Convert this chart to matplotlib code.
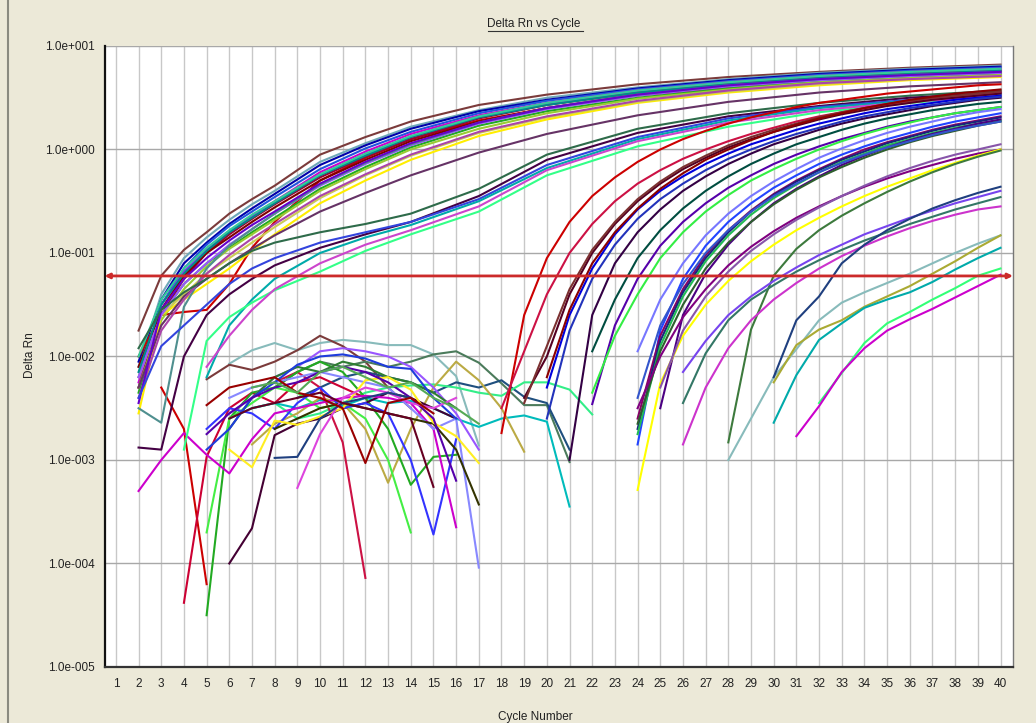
import matplotlib.pyplot as plt
from matplotlib.lines import Line2D
import numpy as np

plt.rcParams['font.family'] = ['Liberation Sans', 'DejaVu Sans']

# threshold (Delta Rn)
threshold = 0.06

# early amplifying wells, log10(Delta Rn) read at these cycles
early_cycles = [2, 3, 4, 5, 6, 7, 8, 10, 12, 14, 17, 20, 24, 28, 32, 36, 40]
early_colors = ['#7B3B3B', '#6FA8B8', '#0000AA', '#2255DD', '#CC00CC', '#8833EE', '#CC0000',
                '#990033', '#800000', '#22AA22', '#99CC33', '#FFEE00', '#CCCC55', '#663366',
                '#9955FF', '#008B8B', '#4F8F8F', '#AA44AA', '#33CC99', '#6600CC',
                '#2E6B4A', '#440044', '#3344DD', '#00AAAA', '#33FF88', '#CC44CC']
early_logs = [
    [-1.75, -1.22, -0.97, -0.8, -0.62, -0.48, -0.35, -0.05, 0.12, 0.27, 0.43, 0.53, 0.63, 0.70, 0.75, 0.79, 0.82],
    [-2.1, -1.4, -1.05, -0.85, -0.68, -0.53, -0.4, -0.12, 0.06, 0.22, 0.38, 0.5, 0.6, 0.68, 0.74, 0.78, 0.81],
    [-2.05, -1.45, -1.1, -0.9, -0.72, -0.57, -0.43, -0.15, 0.04, 0.2, 0.37, 0.48, 0.59, 0.67, 0.73, 0.77, 0.80],
    [-2.2, -1.5, -1.15, -0.92, -0.74, -0.6, -0.46, -0.19, 0.01, 0.17, 0.35, 0.47, 0.58, 0.66, 0.72, 0.76, 0.79],
    [-2.25, -1.55, -1.2, -0.98, -0.8, -0.64, -0.5, -0.22, -0.02, 0.15, 0.33, 0.45, 0.57, 0.65, 0.71, 0.75, 0.78],
    [-2.3, -1.5, -1.18, -0.97, -0.8, -0.65, -0.52, -0.25, -0.05, 0.12, 0.31, 0.44, 0.56, 0.64, 0.70, 0.74, 0.77],
    [-2.0, -1.6, -1.57, -1.55, -1.3, -0.95, -0.7, -0.3, -0.08, 0.1, 0.28, 0.4, 0.52, 0.6, 0.66, 0.71, 0.74],
    [-2.3, -1.6, -1.25, -1.0, -0.82, -0.67, -0.53, -0.27, -0.07, 0.1, 0.3, 0.43, 0.55, 0.63, 0.69, 0.73, 0.76],
    [-2.1, -1.55, -1.22, -1.0, -0.85, -0.7, -0.56, -0.3, -0.1, 0.08, 0.27, 0.4, 0.53, 0.62, 0.68, 0.72, 0.75],
    [-2.35, -1.6, -1.3, -1.1, -0.95, -0.8, -0.66, -0.38, -0.17, 0.02, 0.23, 0.37, 0.5, 0.59, 0.66, 0.70, 0.73],
    [-2.3, -1.65, -1.35, -1.13, -0.96, -0.82, -0.68, -0.4, -0.19, 0.0, 0.2, 0.35, 0.49, 0.58, 0.65, 0.69, 0.72],
    [-2.55, -1.6, -1.45, -1.3, -1.15, -0.98, -0.82, -0.52, -0.3, -0.1, 0.13, 0.29, 0.45, 0.55, 0.62, 0.67, 0.70],
    [-2.2, -1.6, -1.4, -1.2, -1.05, -0.9, -0.75, -0.47, -0.25, -0.06, 0.16, 0.31, 0.46, 0.56, 0.63, 0.68, 0.71],
    [-2.3, -1.7, -1.42, -1.25, -1.1, -0.96, -0.83, -0.6, -0.42, -0.25, -0.03, 0.15, 0.33, 0.46, 0.55, 0.61, 0.65],
    [-2.2, -1.6, -1.3, -1.1, -0.92, -0.77, -0.62, -0.35, -0.14, 0.04, 0.25, 0.39, 0.52, 0.61, 0.67, 0.71, 0.74],
    [-2.15, -1.5, -1.2, -0.98, -0.8, -0.66, -0.52, -0.25, -0.06, 0.12, 0.31, 0.43, 0.55, 0.63, 0.69, 0.73, 0.76],
    [-2.5, -2.64, -1.52, -1.15, -0.93, -0.77, -0.62, -0.34, -0.13, 0.05, 0.26, 0.4, 0.53, 0.62, 0.68, 0.72, 0.75],
    [-2.4, -1.75, -1.45, -1.2, -1.02, -0.86, -0.72, -0.45, -0.24, -0.05, 0.17, 0.32, 0.47, 0.57, 0.64, 0.68, 0.71],
    [-2.0, -1.45, -1.15, -0.95, -0.78, -0.63, -0.5, -0.24, -0.04, 0.13, 0.32, 0.45, 0.57, 0.65, 0.71, 0.75, 0.78],
    [-2.45, -1.55, -1.25, -1.05, -0.88, -0.73, -0.6, -0.33, -0.12, 0.06, 0.26, 0.4, 0.53, 0.62, 0.68, 0.72, 0.75],
    [-1.92, -1.55, -1.38, -1.25, -1.1, -0.98, -0.9, -0.8, -0.72, -0.62, -0.38, -0.05, 0.2, 0.35, 0.45, 0.52, 0.57],
    [-2.88, -2.9, -2.0, -1.6, -1.4, -1.25, -1.12, -0.95, -0.82, -0.7, -0.45, -0.1, 0.16, 0.32, 0.42, 0.5, 0.55],
    [-2.4, -1.9, -1.7, -1.5, -1.3, -1.15, -1.05, -0.9, -0.8, -0.7, -0.48, -0.15, 0.12, 0.3, 0.41, 0.48, 0.54],
    [None, None, None, -2.2, -1.7, -1.45, -1.25, -1.0, -0.85, -0.73, -0.5, -0.18, 0.1, 0.28, 0.4, 0.47, 0.53],
    [None, None, -2.9, -1.85, -1.62, -1.48, -1.36, -1.18, -0.98, -0.82, -0.6, -0.25, 0.03, 0.22, 0.36, 0.45, 0.52],
    [None, None, None, -2.1, -1.8, -1.55, -1.35, -1.1, -0.92, -0.78, -0.55, -0.2, 0.08, 0.26, 0.38, 0.46, 0.52],
]

# late amplifying wells: first plotted cycle, then log10(Delta Rn) for every cycle up to 40
late_start = [18, 18, 19, 19, 20, 21, 20, 20,
              22, 22, 22, 24,
              24, 24, 24, 24, 25, 24, 24,
              24, 24, 28, 25,
              26, 26, 26, 28, 30, 30, 30, 32, 31]
late_colors = ['#CC0000', '#CC1144', '#550022', '#7B3030', '#0000DD', '#330044', '#8B0000', '#2233BB',
               '#004D40', '#5500AA', '#33EE44', '#7777FF',
               '#2244FF', '#880066', '#1A237E', '#22BB55', '#4B0082', '#2E5E2E', '#3355CC',
               '#800080', '#FFFF00', '#3D7A3D', '#8855AA',
               '#337766', '#7744EE', '#CC33CC', '#88BBBB', '#1F3F7F', '#AAAA33', '#00AAAA', '#33FF77', '#CC00CC']
late_logs = [
    [-2.74, -1.6, -1.05, -0.7, -0.45, -0.27, -0.12, 0.0, 0.1, 0.18, 0.25, 0.31, 0.36, 0.41, 0.45, 0.48, 0.51, 0.54, 0.56, 0.58, 0.6, 0.62, 0.63],
    [-2.5, -1.95, -1.4, -1.0, -0.72, -0.5, -0.33, -0.2, -0.09, 0.0, 0.08, 0.15, 0.21, 0.27, 0.32, 0.36, 0.4, 0.43, 0.46, 0.49, 0.51, 0.53, 0.55],
    [-2.4, -2.0, -1.4, -1.0, -0.72, -0.5, -0.33, -0.19, -0.08, 0.02, 0.1, 0.17, 0.23, 0.29, 0.34, 0.38, 0.42, 0.45, 0.48, 0.5, 0.52, 0.54],
    [-2.45, -1.9, -1.35, -0.97, -0.7, -0.48, -0.31, -0.17, -0.06, 0.04, 0.12, 0.19, 0.25, 0.31, 0.36, 0.4, 0.44, 0.47, 0.5, 0.52, 0.54, 0.56],
    [-2.3, -1.6, -1.15, -0.82, -0.58, -0.4, -0.26, -0.14, -0.04, 0.05, 0.12, 0.19, 0.25, 0.3, 0.35, 0.39, 0.42, 0.45, 0.48, 0.5, 0.52],
    [-3.0, -1.6, -1.1, -0.8, -0.58, -0.4, -0.26, -0.14, -0.04, 0.05, 0.12, 0.19, 0.25, 0.3, 0.34, 0.38, 0.42, 0.45, 0.48, 0.5],
    [-2.2, -1.55, -1.1, -0.8, -0.57, -0.38, -0.23, -0.1, 0.0, 0.09, 0.17, 0.24, 0.3, 0.35, 0.4, 0.44, 0.48, 0.51, 0.54, 0.56, 0.58],
    [-2.6, -1.75, -1.25, -0.92, -0.67, -0.48, -0.33, -0.2, -0.09, 0.0, 0.08, 0.15, 0.21, 0.27, 0.32, 0.36, 0.4, 0.43, 0.46, 0.49, 0.51],
    [-1.95, -1.45, -1.05, -0.78, -0.57, -0.4, -0.26, -0.14, -0.04, 0.05, 0.12, 0.19, 0.25, 0.3, 0.34, 0.38, 0.41, 0.44, 0.46],
    [-2.46, -1.7, -1.25, -0.93, -0.7, -0.52, -0.37, -0.25, -0.14, -0.05, 0.03, 0.1, 0.16, 0.22, 0.27, 0.31, 0.35, 0.38, 0.41],
    [-2.35, -1.8, -1.4, -1.05, -0.8, -0.6, -0.44, -0.3, -0.19, -0.09, 0.0, 0.08, 0.15, 0.21, 0.26, 0.31, 0.35, 0.38, 0.41],
    [-1.95, -1.45, -1.1, -0.83, -0.62, -0.45, -0.31, -0.19, -0.08, 0.01, 0.09, 0.16, 0.22, 0.27, 0.32, 0.36, 0.39],
    [-2.85, -1.75, -1.25, -0.93, -0.7, -0.52, -0.37, -0.25, -0.14, -0.05, 0.03, 0.1, 0.16, 0.22, 0.27, 0.31, 0.35],
    [-2.6, -1.8, -1.35, -1.02, -0.78, -0.59, -0.43, -0.3, -0.19, -0.09, 0.0, 0.07, 0.13, 0.19, 0.24, 0.28, 0.32],
    [-2.7, -1.85, -1.38, -1.05, -0.8, -0.6, -0.44, -0.31, -0.2, -0.1, -0.02, 0.06, 0.12, 0.18, 0.23, 0.27, 0.31],
    [-2.75, -1.9, -1.42, -1.08, -0.83, -0.63, -0.47, -0.34, -0.22, -0.12, -0.04, 0.04, 0.1, 0.16, 0.21, 0.25, 0.28],
    [-2.5, -1.6, -1.2, -0.92, -0.7, -0.52, -0.38, -0.26, -0.15, -0.06, 0.02, 0.09, 0.15, 0.2, 0.25, 0.29],
    [-2.65, -1.95, -1.5, -1.15, -0.9, -0.7, -0.53, -0.39, -0.27, -0.17, -0.08, 0.0, 0.07, 0.13, 0.18, 0.23, 0.27],
    [-2.4, -1.7, -1.3, -1.0, -0.78, -0.6, -0.45, -0.33, -0.22, -0.13, -0.05, 0.02, 0.08, 0.14, 0.19, 0.23, 0.27],
    [-2.5, -2.0, -1.62, -1.35, -1.12, -0.94, -0.79, -0.66, -0.55, -0.45, -0.36, -0.28, -0.21, -0.15, -0.09, -0.04, 0.0],
    [-3.29, -2.26, -1.8, -1.5, -1.27, -1.08, -0.92, -0.78, -0.66, -0.55, -0.45, -0.36, -0.28, -0.2, -0.13, -0.06, 0.0],
    [-2.83, -1.74, -1.22, -0.96, -0.78, -0.64, -0.52, -0.41, -0.31, -0.22, -0.14, -0.07, -0.01],
    [-2.3, -1.75, -1.42, -1.18, -0.98, -0.82, -0.68, -0.56, -0.45, -0.35, -0.26, -0.18, -0.11, -0.05, 0.0, 0.05],
    [-2.45, -1.97, -1.65, -1.45, -1.31, -1.18, -1.07, -0.97, -0.88, -0.8, -0.72, -0.65, -0.58, -0.52, -0.46],
    [-2.15, -1.85, -1.6, -1.42, -1.27, -1.14, -1.02, -0.92, -0.82, -0.74, -0.66, -0.59, -0.52, -0.46, -0.4],
    [-2.85, -2.3, -1.92, -1.65, -1.45, -1.29, -1.15, -1.03, -0.93, -0.84, -0.76, -0.69, -0.63, -0.58, -0.55],
    [-3.0, -2.6, -2.2, -1.93, -1.65, -1.48, -1.38, -1.29, -1.2, -1.1, -1.0, -0.91, -0.83],
    [-2.2, -1.65, -1.42, -1.1, -0.92, -0.78, -0.67, -0.57, -0.49, -0.42, -0.36],
    [-2.25, -1.89, -1.74, -1.65, -1.52, -1.42, -1.32, -1.2, -1.08, -0.95, -0.83],
    [-2.64, -2.18, -1.84, -1.68, -1.53, -1.45, -1.38, -1.28, -1.16, -1.05, -0.95],
    [-2.45, -2.16, -1.87, -1.68, -1.57, -1.45, -1.34, -1.22, -1.15],
    [-2.77, -2.48, -2.15, -1.92, -1.75, -1.64, -1.54, -1.43, -1.32, -1.21],
]

# baseline noise of non-amplifying wells: first cycle, then log10(Delta Rn) per cycle
noise_start = [6, 5, 8, 9, 7, 6, 7, 3, 4, 8, 5, 6, 5, 5, 2, 6, 8, 6, 6, 5, 6, 5, 9, 8, 6, 5, 7]
noise_colors = ['#88BBBB', '#7B3B3B', '#4B7B5B', '#1F4F7F', '#33EE88', '#00BBBB', '#BBAA44',
                '#CC0000', '#CC0033', '#CC1144', '#22AA22', '#440033', '#44EE44', '#3333FF',
                '#CC00CC', '#8888FF', '#333300', '#9955FF', '#2E7D32', '#1E3CDC', '#FFEE22',
                '#5500AA', '#DD44DD', '#1F3F7F', '#660022', '#990000', '#55AA55']
noise_logs = [
    [-2.07, -1.94, -1.87, -1.94, -1.87, -1.84, -1.86, -1.89, -1.89, -1.98, -2.19, -2.86],
    [-2.22, -2.08, -2.13, -2.05, -1.94, -1.80, -1.9, -2.05, -2.3, -2.5],
    [-2.3, -2.15, -2.05, -2.1, -2.05, -2.1, -2.05, -1.98, -1.95, -2.06, -2.26, -2.47, -2.47, -3.02],
    [-2.4, -2.3, -2.2, -2.15, -2.2, -2.25, -2.35, -2.25, -2.3, -2.23, -2.39, -2.45, -2.9],
    [-2.5, -2.45, -2.6, -2.55, -2.45, -2.35, -2.3, -2.28, -2.27, -2.3, -2.35, -2.38, -2.25, -2.25, -2.32, -2.56],
    [-2.6, -2.5, -2.45, -2.5, -2.42, -2.48, -2.4, -2.45, -2.43, -2.5, -2.6, -2.68, -2.6, -2.57, -2.63, -3.45],
    [-2.85, -2.65, -2.55, -2.4, -2.45, -2.7, -3.22, -2.7, -2.3, -2.05, -2.23, -2.5, -2.92],
    [-2.3, -2.7, -4.2],
    [-4.38, -2.97, -2.5, -2.35, -2.45, -2.25, -2.2, -2.3, -2.4],
    [-2.25, -2.15, -2.3, -2.83, -4.14],
    [-4.5, -2.6, -2.35, -2.3, -2.15, -2.05, -2.15, -2.4, -2.7, -3.24, -2.97, -2.95],
    [-4.0, -3.66, -2.76, -2.65, -2.6, -2.5, -2.45, -2.35, -2.4, -2.5, -2.6],
    [-3.7, -2.6, -2.45, -2.3, -2.35, -2.5, -2.45, -2.6, -3.0, -3.7],
    [-2.7, -2.5, -2.55, -2.7, -2.45, -2.3, -2.5, -2.45, -2.55, -3.0, -3.72, -2.8],
    [-3.3, -3.0, -2.74, -2.95, -3.13, -2.8, -2.55, -2.5, -2.45, -2.4, -2.38, -2.4, -2.45, -2.7, -3.65],
    [-2.4, -2.3, -2.25, -2.2, -2.15, -2.2, -2.25, -2.3, -2.5, -2.7, -2.6, -4.04],
    [-2.7, -2.6, -2.5, -2.45, -2.5, -2.55, -2.6, -2.65, -2.9, -3.43],
    [-2.55, -2.4, -2.2, -2.1, -1.95, -1.92, -1.95, -2.0, -2.1, -2.3, -2.55, -2.9],
    [-2.7, -2.4, -2.2, -2.1, -2.15, -2.05, -2.1, -2.2, -2.25, -2.35, -2.5],
    [-2.9, -2.7, -2.4, -2.25, -2.08, -2.0, -1.98, -2.02, -2.1, -2.12, -2.4, -2.6],
    [-2.9, -3.07, -2.62, -2.66, -2.58, -2.5, -2.23, -2.2, -2.32, -2.64, -2.77, -3.03],
    [-2.75, -2.55, -2.4, -2.3, -2.25, -2.15, -2.1, -2.15, -2.25, -2.4, -2.6, -3.2],
    [-3.27, -2.75, -2.4, -2.3, -2.35, -2.45, -2.5, -2.4],
    [-2.98, -2.97, -2.6, -2.45, -2.4, -2.35, -2.4],
    [-2.6, -2.5, -2.45, -2.4, -2.35, -2.45, -2.5, -2.55, -2.6, -3.26],
    [-2.47, -2.3, -2.25, -2.2, -2.35, -2.4, -2.5, -3.03, -2.45, -2.4, -2.55],
    [-2.3, -2.25, -2.35, -2.15, -2.1, -2.2, -2.3, -2.25, -2.4, -2.5, -2.65],
]

cycles = list(range(1, 41))
ytick_vals = [1e-5, 1e-4, 1e-3, 1e-2, 1e-1, 1e0, 1e1]
ytick_labels = ['1.0e-005', '1.0e-004', '1.0e-003', '1.0e-002', '1.0e-001', '1.0e+000', '1.0e+001']

bg = '#ECE9D8'
fig = plt.figure(figsize=(10.36, 7.23), dpi=100, facecolor=bg)
ax = fig.add_axes([0.1009, 0.0775, 0.8769, 0.8589])
ax.set_facecolor('white')

lw = 1.5
# baseline noise first, then the amplification curves
for s, c, logs in zip(noise_start, noise_colors, noise_logs):
    x = np.arange(s, s + len(logs))
    ax.plot(x, 10.0 ** np.array(logs), color=c, lw=lw, zorder=3)

for c, logs in zip(early_colors, early_logs):
    v = np.array([np.nan if a is None else a for a in logs], dtype=float)
    ax.plot(early_cycles, 10.0 ** v, color=c, lw=lw, zorder=3)

for s, c, logs in zip(late_start, late_colors, late_logs):
    x = np.arange(s, s + len(logs))
    ax.plot(x, 10.0 ** np.array(logs), color=c, lw=lw, zorder=3)

ax.set_yscale('log')
ax.set_ylim(1e-5, 1e1)
ax.set_xlim(0.5, 40.55)

# threshold line with arrow heads at both ends
ax.annotate('', xy=(40.55, threshold), xytext=(0.5, threshold),
            arrowprops=dict(arrowstyle='<|-|>', color='#CC2A2A', lw=2.0,
                            mutation_scale=7, shrinkA=0, shrinkB=0), zorder=5)

ax.set_xticks(cycles)
ax.set_xticklabels([str(c) for c in cycles], fontsize=8.5, color='#222222')
ax.set_yticks(ytick_vals)
ax.set_yticklabels(ytick_labels, fontsize=8.5, color='#222222')
ax.minorticks_off()
ax.tick_params(axis='y', length=0, pad=7)
ax.tick_params(axis='x', length=0, pad=8)

ax.grid(axis='x', color='#C8C8C8', lw=1.0, zorder=1)
ax.grid(axis='y', color='#A8A8A8', lw=1.0, zorder=1)

ax.spines['top'].set_visible(False)
ax.spines['left'].set_color('#111111')
ax.spines['left'].set_linewidth(1.6)
ax.spines['bottom'].set_color('#333333')
ax.spines['bottom'].set_linewidth(1.6)
ax.spines['right'].set_color('#777777')
ax.spines['right'].set_linewidth(1.0)

# title (underlined), axis labels
fig.text(0.5155, 1 - 24 / 723, 'Delta Rn vs Cycle', ha='center', va='center', fontsize=8.5, color='#222222')
fig.add_artist(Line2D([488 / 1036, 583 / 1036], [1 - 30.5 / 723, 1 - 30.5 / 723], color='#333333', lw=0.8))
fig.text(30 / 1036, 1 - 355 / 723, 'Delta Rn', rotation=90, ha='center', va='center', fontsize=8.5, color='#222222')
fig.text(535 / 1036, 1 - 717 / 723, 'Cycle Number', ha='center', va='center', fontsize=8.5, color='#222222')

# left window border
fig.add_artist(Line2D([7.5 / 1036, 7.5 / 1036], [0, 1], color='#8A8A80', lw=1.5))

fig.savefig('out.png', dpi=100, facecolor=bg)
